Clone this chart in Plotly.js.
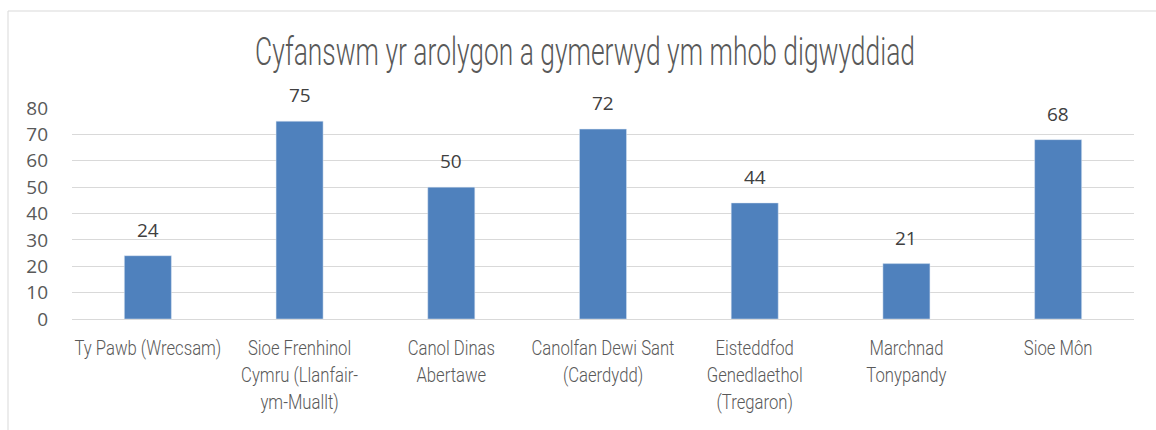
<!DOCTYPE html>
<html>
<head>
<meta charset="utf-8">
<script src="https://cdn.plot.ly/plotly-3.0.1.min.js"></script>
<style>
html,body{margin:0;padding:0;background:#fff;}
#chart{width:1156px;height:430px;}
</style>
</head>
<body>
<div id="chart"></div>
<script>
const categories = [
  "Ty Pawb (Wrecsam)",
  "Sioe Frenhinol<br>Cymru (Llanfair-<br>ym-Muallt)",
  "Canol Dinas<br>Abertawe",
  "Canolfan Dewi Sant<br>(Caerdydd)",
  "Eisteddfod<br>Genedlaethol<br>(Tregaron)",
  "Marchnad<br>Tonypandy",
  "Sioe Môn"
];
const values = [24, 75, 50, 72, 44, 21, 68];
const yTicks = [0, 10, 20, 30, 40, 50, 60, 70, 80];
const titleText = "Cyfanswm yr arolygon a gymerwyd ym mhob digwyddiad";

const narrow = "Roboto, 'Liberation Sans', sans-serif";
const body = "'Open Sans', 'Liberation Sans', sans-serif";

const trace = {
  type: 'bar',
  x: categories,
  y: values,
  marker: {color: '#4f81bd', line: {color: '#dce6f2', width: 0.5}},
  hoverinfo: 'x+y'
};

const annotations = categories.map((c, i) => ({
  x: c, y: values[i], xref: 'x', yref: 'y',
  text: String(values[i]),
  showarrow: false,
  yanchor: 'bottom',
  yshift: 11,
  font: {family: body, size: 19, color: '#404040'}
}));

const layout = {
  width: 1156,
  height: 430,
  margin: {l: 72, r: 22, t: 108, b: 111},
  paper_bgcolor: '#ffffff',
  plot_bgcolor: '#ffffff',
  bargap: 0.69,
  showlegend: false,
  title: {
    text: titleText,
    font: {family: narrow, size: 38, color: '#595959', weight: 300},
    x: 585 / 1156, xanchor: 'center',
    y: 0.88, yanchor: 'middle'
  },
  xaxis: {
    type: 'category',
    tickfont: {family: narrow, size: 20.5, color: '#595959', weight: 300},
    tickangle: 0,
    showgrid: false,
    showline: false,
    ticks: '',
    ticklen: 0,
    ticklabelstandoff: 15,
    automargin: false
  },
  yaxis: {
    range: [0, 80],
    tickvals: yTicks,
    ticktext: yTicks.map(String),
    tickfont: {family: body, size: 19, color: '#595959'},
    showgrid: true,
    gridcolor: '#d9d9d9',
    gridwidth: 1,
    zeroline: true,
    zerolinecolor: '#d9d9d9',
    zerolinewidth: 1,
    showline: false,
    ticks: '',
    ticklabelstandoff: 23,
    automargin: false
  },
  annotations: annotations,
  shapes: [
    {type: 'line', xref: 'paper', yref: 'paper',
     x0: (8 - 72) / 1062, x1: (1160 - 72) / 1062,
     y0: (319 - 11) / 211, y1: (319 - 11) / 211,
     line: {color: '#d9d9d9', width: 1}},
    {type: 'line', xref: 'paper', yref: 'paper',
     x0: (8 - 72) / 1062, x1: (8 - 72) / 1062,
     y0: (319 - 11) / 211, y1: (319 - 440) / 211,
     line: {color: '#d9d9d9', width: 1}}
  ]
};

function condense(el, s) {
  const x = parseFloat(el.getAttribute('x')) || 0;
  const t = el.getAttribute('transform') || '';
  el.setAttribute('transform', t + ' translate(' + x + ',0) scale(' + s + ',1) translate(' + (-x) + ',0)');
}

Plotly.newPlot('chart', [trace], layout, {displayModeBar: false, staticPlot: true}).then(gd => {
  const title = gd.querySelector('.gtitle');
  if (title) {
    const w = title.getBBox().width;
    if (w > 0) condense(title, 660 / w);
  }
  const ticks = gd.querySelectorAll('.xtick text');
  if (ticks.length) {
    const w0 = ticks[0].getBBox().width;
    const s = w0 > 0 ? 147 / w0 : 1;
    ticks.forEach(t => condense(t, s));
  }
});
</script>
</body>
</html>
